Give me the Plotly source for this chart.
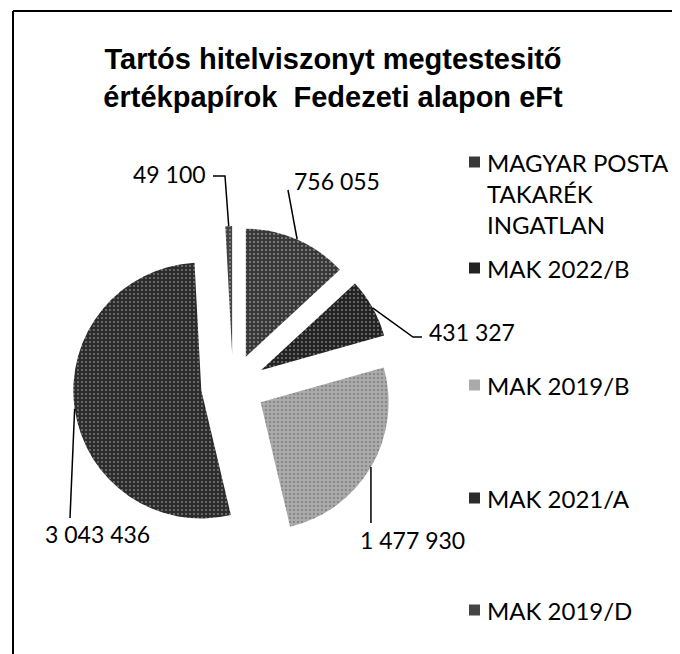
import math
import plotly.graph_objects as go

# ---- data ----
labels = ["MAGYAR POSTA\nTAKARÉK\nINGATLAN", "MAK 2022/B", "MAK 2019/B", "MAK 2021/A", "MAK 2019/D"]
values = [756055, 431327, 1477930, 3043436, 49100]
title_lines = ["Tartós hitelviszonyt megtestesitő", "értékpapírok  Fedezeti alapon eFt"]

# ---- styles ----
colors = ["#383838", "#232323", "#aaaaaa", "#2c2c2c", "#444444"]
dot_colors = ["#e8e8e8", "#d8d8d8", "#4a4a4a", "#d0d0d0", "#e0e0e0"]

W, H = 680, 654
OFF = 8  # default page body margin
CX, CY, R, PULL = 233, 386, 128, 0.25
half = R * (1 + PULL)

def X(px):
    return (px - OFF) / W

def Y(py):
    return 1 - (py - OFF) / H

fig = go.Figure()
fig.add_trace(go.Pie(
    labels=[l.replace("\n", " ") for l in labels],
    values=values,
    sort=False,
    direction="clockwise",
    rotation=0,
    pull=[PULL] * len(values),
    textinfo="none",
    hoverinfo="label+value",
    showlegend=False,
    domain=dict(x=[X(CX - half), X(CX + half)], y=[Y(CY + half), Y(CY - half)]),
    marker=dict(
        colors=colors,
        line=dict(width=0),
        pattern=dict(shape=["."] * 5, fgcolor=dot_colors, size=4, solidity=0.18,
                     fillmode="overlay"),
    ),
))

# ---- data labels with leader lines (anchored on slice mid-angle rims) ----
total = sum(values)
label_style = [
    # (text x px, text y px, xanchor, leader bend points in px)
    (292, 181, "left", [(288, 190)]),
    (427, 332, "left", [(413, 337), (422, 337)]),
    (358, 540, "left", [(None, 523)]),
    (43, 534, "left", [(70, 518)]),
    (208, 174, "right", [(225, 176), (213, 176)]),
]
cum = 0
for v, (tx, ty, xa, bends) in zip(values, label_style):
    mid = (cum + v / 2) / total * 2 * math.pi
    cum += v
    rr = R * (1 + PULL)
    rx = CX + rr * math.sin(mid)
    ry = CY - rr * math.cos(mid)
    pts = [(rx, ry)] + [((rx if bx is None else bx), by) for bx, by in bends]
    path = "M " + " L ".join(f"{X(px):.5f},{Y(py):.5f}" for px, py in pts)
    fig.add_shape(type="path", path=path, xref="paper", yref="paper",
                  line=dict(color="black", width=1.5))
    fig.add_annotation(x=X(tx), y=Y(ty), xref="paper", yref="paper",
                       xanchor=xa, yanchor="middle", showarrow=False,
                       text=f"{v:,}".replace(",", " "),
                       font=dict(family="Lato", size=23, color="black"))

# ---- legend (manual, Excel-like placement) ----
legend_y = [162, 268, 385, 498, 610]
for lab, col, ly in zip(labels, colors, legend_y):
    fig.add_shape(type="rect", xref="paper", yref="paper",
                  x0=X(469), x1=X(480), y0=Y(ly + 5.5), y1=Y(ly - 5.5),
                  fillcolor=col, line=dict(width=0))
    fig.add_annotation(x=X(485), y=Y(ly - 16), xref="paper", yref="paper",
                       xanchor="left", yanchor="top", showarrow=False, align="left",
                       text=lab.replace("\n", "<br>"),
                       font=dict(family="Lato", size=24, color="black"))

# ---- frame ----
fig.add_shape(type="line", xref="paper", yref="paper", x0=X(13), x1=X(13), y0=Y(11), y1=0,
              line=dict(color="black", width=2))
fig.add_shape(type="line", xref="paper", yref="paper", x0=X(13), x1=1, y0=Y(11), y1=Y(11),
              line=dict(color="black", width=2))

fig.update_layout(
    width=W, height=H,
    margin=dict(l=0, r=0, t=0, b=0),
    paper_bgcolor="white", plot_bgcolor="white",
    title=dict(text="<b>" + "<br>".join(title_lines) + "</b>",
               x=X(333), xanchor="center", y=Y(69), yanchor="middle",
               font=dict(family="Liberation Sans, Arial", size=29, color="black")),
)

fig.write_html("out.html")
